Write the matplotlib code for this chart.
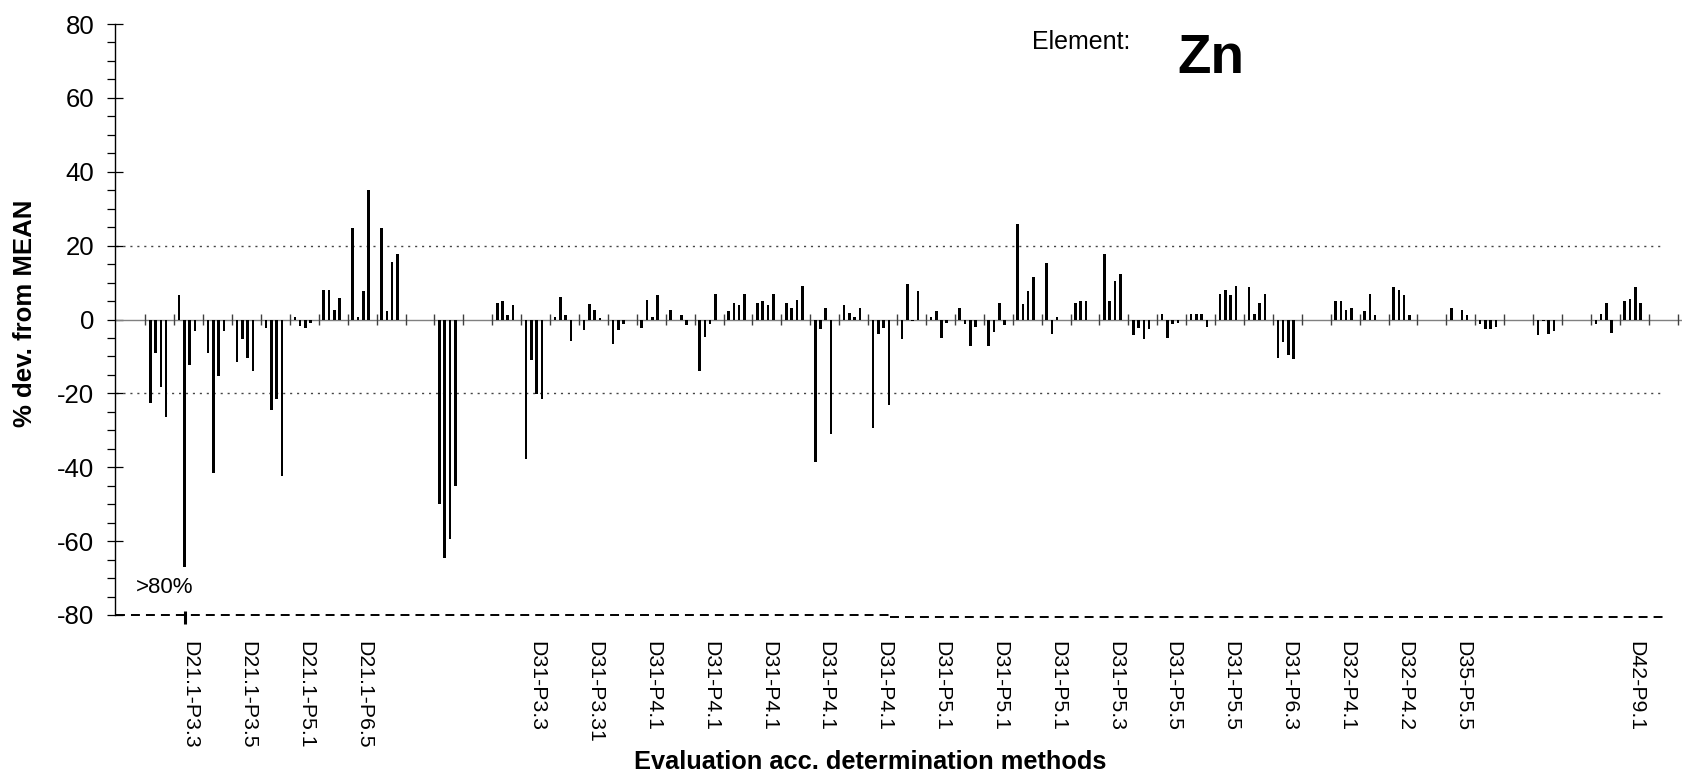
import numpy as np
import matplotlib
matplotlib.use("Agg")
import matplotlib.pyplot as plt
from matplotlib.ticker import MultipleLocator

nan = np.nan

# % deviation from mean, one value per lab (category) and sample
sample_1 = [nan, -22.7, 6.6, -9.2, -11.4, -2.4, 0.7, 8.1, 24.9, 24.9,
            nan, -50.0, nan, 4.5, -37.8, 0.6, -2.8, -6.6, -2.3, 2.7,
            -14.0, 2.2, 4.4, 4.4, -38.5, 4.0, -29.5, -5.4, 0.6, 3.2,
            -7.2, 25.9, 15.2, 4.5, 17.6, -4.3, 1.6, 1.6, 7.0, 8.9,
            -10.5, nan, 5.0, 2.2, 8.9, nan, 3.2, -1.2, nan, -4.3,
            nan, -1.2, 5.0, nan]
sample_2 = [nan, -9.2, -66.9, -41.5, -5.4, -24.5, -1.8, 8.1, 0.6, 2.2,
            nan, -64.5, nan, 5.0, -11.0, 6.0, 4.1, -2.8, 5.4, nan,
            -4.8, 4.4, 4.9, 3.2, -2.7, 1.7, -3.8, 9.5, 2.3, -1.2,
            -3.3, 4.1, -3.8, 5.0, 5.0, -2.4, -5.0, 1.6, 8.1, 1.6,
            -6.1, nan, 5.0, 7.0, 8.1, nan, nan, -2.7, nan, -0.5,
            nan, 1.6, 5.5, nan]
sample_3 = [nan, -18.4, -12.4, -15.3, -10.5, -21.6, -2.3, 2.7, 7.6, 15.7,
            nan, -59.5, nan, 1.2, -20.1, 1.2, 2.7, -1.2, 0.7, 1.3,
            -1.1, 4.0, 4.0, 5.4, 3.2, 0.7, -2.3, -0.5, -5.0, -7.2,
            4.5, 7.6, 0.7, 5.0, 10.4, -5.4, -1.2, 1.6, 6.6, 4.5,
            -9.7, nan, 2.7, 1.2, 6.6, nan, 2.7, -2.7, nan, -3.8,
            nan, 4.5, 8.9, nan]
sample_4 = [nan, -26.4, -3.2, -3.2, -14.0, -42.5, -1.0, 5.9, 35.1, 17.8,
            nan, -45.0, nan, 4.0, -21.4, -5.9, 0.4, nan, 6.5, -1.4,
            7.0, 6.9, 6.9, 9.2, -31.0, 3.1, -23.2, 7.7, -0.9, -2.1,
            -1.5, 11.4, nan, nan, 12.4, -2.7, -0.9, -2.1, 9.2, 7.0,
            -10.8, nan, 3.2, nan, 1.1, nan, 1.1, -2.0, nan, -3.2,
            nan, -3.6, 4.5, nan]

# method labels shown on the axis (every 2nd lab, some blank)
label_pos = [2, 4, 6, 8, 14, 16, 18, 20, 22, 24, 26, 28, 30, 32, 34,
             36, 38, 40, 42, 44, 46, 52]
label_txt = ['D21.1-P3.3', 'D21.1-P3.5', 'D21.1-P5.1', 'D21.1-P6.5',
             'D31-P3.3', 'D31-P3.31', 'D31-P4.1', 'D31-P4.1', 'D31-P4.1',
             'D31-P4.1', 'D31-P4.1', 'D31-P5.1', 'D31-P5.1', 'D31-P5.1',
             'D31-P5.3', 'D31-P5.5', 'D31-P5.5', 'D31-P6.3', 'D32-P4.1',
             'D32-P4.2', 'D35-P5.5', 'D42-P9.1']

# (lab, sample) beyond the scale -> marked on the -80 line
over80 = [(2, 1)]

plt.rcParams['font.family'] = ['Liberation Sans', 'DejaVu Sans']
plt.rcParams['axes.unicode_minus'] = False

fig = plt.figure(figsize=(16.82, 7.74), dpi=100)
ax = fig.add_axes([115 / 1682, 1 - 615 / 774, 1 - 115 / 1682, (615 - 24) / 774])

n_lab = len(sample_1)
labs = np.arange(n_lab)
offsets = [0.17, 0.355, 0.535, 0.72]
series = [sample_1, sample_2, sample_3, sample_4]

for vals, off in zip(series, offsets):
    v = np.array(vals, dtype=float)
    ok = ~np.isnan(v)
    ax.bar(labs[ok] + off, v[ok], width=0.09, color='black', linewidth=0, zorder=3)

ax.set_xlim(-0.05, 54.15)
ax.set_ylim(-80, 80)

# zero line with lab separators
ax.axhline(0, color='#808080', lw=1.0, zorder=2)
ax.vlines(np.arange(1, n_lab + 1), -1.5, 1.5, color='#404040', lw=1.0, zorder=2)

# +-20 limits and the -80 floor
ax.hlines([20, -20], 0, 53.5, colors='#444444', linestyles=(0, (1.5, 3.5)), lw=1.0, zorder=1)
ax.hlines(-80, 0, 26.75, colors='black', linestyles=(0, (4.6, 3.1)), lw=1.4, clip_on=False)
ax.hlines(-80.5, 26.75, 53.5, colors='black', linestyles=(0, (4.6, 3.1)), lw=1.4, clip_on=False)

for lab, s in over80:
    x = lab + offsets[s]
    ax.plot([x, x], [-78.8, -82.5], color='black', lw=2.2, clip_on=False,
            solid_capstyle='butt')
ax.text(1.65, -74, '>80%', fontsize=16, ha='center', va='baseline')

for side in ['top', 'right', 'bottom']:
    ax.spines[side].set_visible(False)
ax.spines['left'].set_color('black')
ax.spines['left'].set_linewidth(1.0)

ax.set_yticks(range(-80, 81, 20))
ax.yaxis.set_minor_locator(MultipleLocator(5))
ax.tick_params(axis='y', which='major', direction='inout', length=12, width=0.9,
               labelsize=18.5, pad=9)
ax.tick_params(axis='y', which='minor', direction='out', length=6, width=0.9)

ax.set_xticks(np.array(label_pos) + 0.55)
ax.set_xticklabels(label_txt, rotation=270, fontsize=15.3)
ax.tick_params(axis='x', length=0, pad=18.5)

fig.text(24.6 / 1682, 1 - 313 / 774, '% dev. from MEAN', rotation=90, fontsize=18.5,
         fontweight='bold', ha='center', va='center')
fig.text(870 / 1682, 1 - 762 / 774, 'Evaluation acc. determination methods',
         fontsize=18.3, fontweight='bold', ha='center', va='center')
fig.text(1032 / 1682, 1 - 49 / 774, 'Element:', fontsize=18, ha='left', va='baseline')
fig.text(1177 / 1682, 1 - 73 / 774, 'Zn', fontsize=39.5, fontweight='bold',
         ha='left', va='baseline')

fig.savefig('out.png', dpi=100)
